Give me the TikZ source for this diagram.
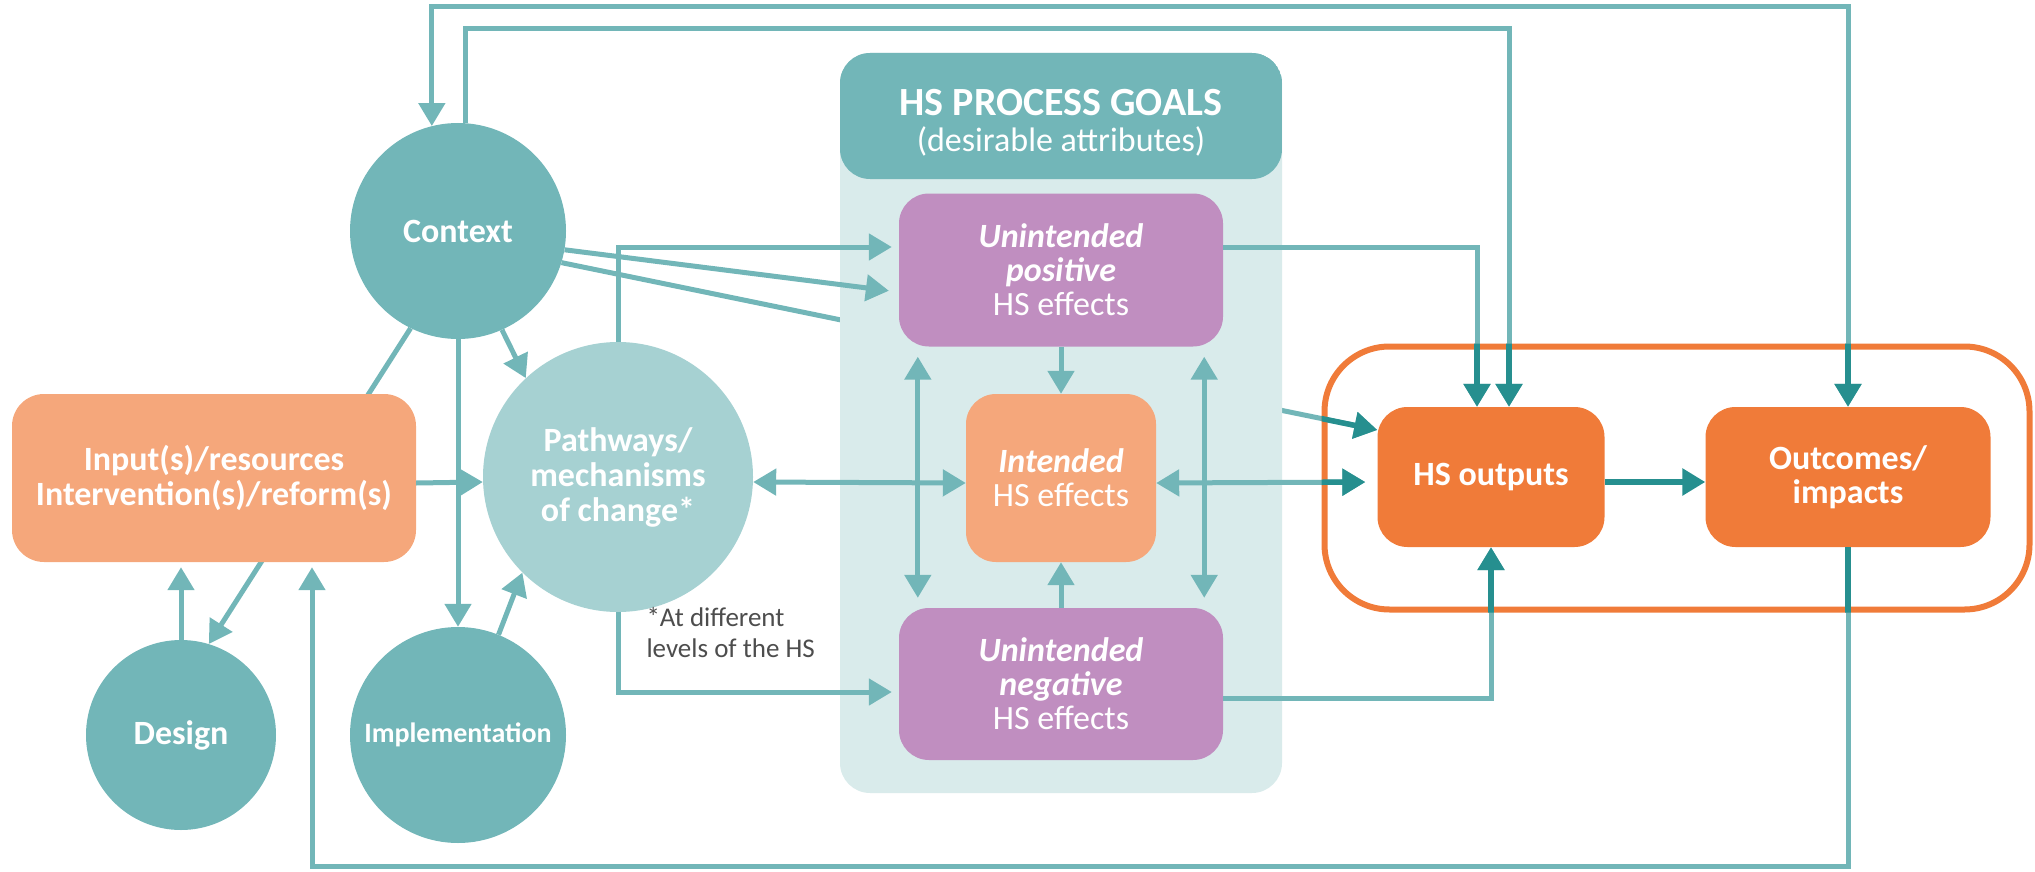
\documentclass[tikz,border=0pt]{standalone}
\usepackage{fontspec}
\setmainfont{Carlito}
\usetikzlibrary{arrows.meta}

\definecolor{tealc}{HTML}{72B6B8}
\definecolor{tealp}{HTML}{A6D1D2}
\definecolor{tealdark}{HTML}{268F8F}
\definecolor{panelc}{HTML}{D9EBEB}
\definecolor{purp}{HTML}{C08EC0}
\definecolor{peach}{HTML}{F5A77B}
\definecolor{orng}{HTML}{F07B39}
\definecolor{notec}{HTML}{4D4D4D}

\pgfdeclarelayer{back}
\pgfsetlayers{back,main}

\tikzset{
  >={Triangle[length=23pt,width=26pt]},
  link/.style={tealc, line width=5pt},
  hot/.style={tealdark, line width=5.5pt},
  circ/.style={circle, fill=tealc, text=white, inner sep=0pt, align=center,
    font=\bfseries\fontsize{34}{34}\selectfont},
  card/.style={rounded corners=30pt, text=white, inner sep=0pt, align=center,
    font=\fontsize{34}{34}\selectfont},
}

\begin{document}
\begin{tikzpicture}[x=1pt, y=-1pt]
                \useasboundingbox (0,0) rectangle (2035,872);
                \coordinate (top1) at (0,7);
                \coordinate (top2) at (0,29);
                \coordinate (bot) at (0,866);
                % left side
                \node [circ, minimum size=216pt] (Ctx) at (458,231) {Context};
                \node [circ, fill=tealp, minimum size=270pt, font=\bfseries\fontsize{34}{35}\selectfont] (Path) at (618,477) {Pathways/\\mechanisms\\of change*};
                \node [circ, minimum size=190pt] (Des) at (181,735) {Design};
                \node [circ, minimum size=216pt, font=\bfseries\fontsize{28}{30}\selectfont] (Impl) at (458,735) {Implementation};
                \node [card, fill=peach, rounded corners=32pt, minimum width=404pt, minimum height=168pt, font=\bfseries\fontsize{34}{35}\selectfont] (Inp) at (214,478) {Input(s)/resources\\Intervention(s)/reform(s)};
                \node [anchor=north west, text=notec, align=left, font=\fontsize{27}{31}\selectfont] (Note) at (643,604) {*At different\\levels of the HS};
                % process goals panel
                \node [fill=panelc, rounded corners=30pt, minimum width=442pt, minimum height=740pt, inner sep=0pt,
                    path picture={\fill [tealc] (path picture bounding box.north west) rectangle ([yshift=-126pt]path picture bounding box.north east);}] (Goals) at (1061,423) {};
                \node [text=white, align=center, font=\fontsize{34}{36}\selectfont] (GoalsTitle) at ([yshift=-70pt]Goals.north) {{\bfseries\fontsize{40}{36}\selectfont HS PROCESS GOALS}\\(desirable attributes)};
                \node [card, fill=purp, minimum width=324pt, minimum height=153pt] (Pos) at (1061,270) {{\bfseries\itshape Unintended}\\{\bfseries\itshape positive}\\HS effects};
                \node [card, fill=peach, minimum width=190pt, minimum height=168pt] (Int) at (1061,478) {{\bfseries\itshape Intended}\\HS effects};
                \node [card, fill=purp, minimum width=324pt, minimum height=152pt] (Neg) at (1061,684) {{\bfseries\itshape Unintended}\\{\bfseries\itshape negative}\\HS effects};
                % outputs frame
                \node [draw=orng, line width=6pt, rounded corners=65pt, minimum width=705pt, minimum height=263pt, inner sep=0pt] (Frame) at (1677,478) {};
                \node [card, fill=orng, minimum width=227pt, minimum height=140pt, font=\bfseries\fontsize{34}{34}\selectfont] (Out) at (1491,477) {HS outputs};
                \node [card, fill=orng, minimum width=285pt, minimum height=140pt, font=\bfseries\fontsize{34}{34}\selectfont] (Outc) at (1848,477) {Outcomes/\\impacts};
                \coordinate (o1) at ([xshift=-14pt]Out.north);
                \coordinate (o2) at ([xshift=18pt]Out.north);
                \coordinate (i1) at ([xshift=98pt]Inp.south);
                % lines running under boxes
                \begin{pgfonlayer}{back}
                \draw [link, ->] (Ctx.-17) -- ([yshift=47pt]Out.west);
                \draw [link, ->] (Ctx.244) -- (Des.73);
                \end{pgfonlayer}
                % links
                \draw [link, <->] (Ctx.104) -- (Ctx.104 |- top1) -| (Outc.north);
                \draw [link, ->] (Ctx.86) -- (Ctx.86 |- top2) -| (o2);
                \draw [link, ->, shorten >=10pt] (Ctx.-10) -- ([yshift=-22pt]Pos.west);
                \draw [link, ->] (Ctx.-66) -- (Path.133);
                \draw [link, ->] (Ctx.south) -- (Impl.north);
                \draw [link, ->, shorten >=5pt] (Des.north) -- (Des.north |- Inp.south);
                \draw [link, ->] (Impl.68) -- (Path.225);
                \draw [link, ->] ([yshift=-5pt]Inp.east) -- ([yshift=-5pt]Path.west);
                \draw [link, ->, shorten >=7pt] (Path.north) |- ([yshift=23pt]Pos.west);
                \draw [link, ->, shorten >=7pt] (Path.south) |- ([yshift=-8pt]Neg.west);
                \draw [link, <->] ([yshift=-5pt]Path.east) -- ([yshift=-5pt]Int.west);
                \draw [link, <->, shorten >=12pt] ([yshift=-5pt]Int.east) -- ([yshift=-5pt]Out.west);
                \draw [link, ->] (Pos.south) -- (Int.north);
                \draw [link, ->] (Neg.north) -- (Int.south);
                \draw [link, <->, shorten <=10pt, shorten >=10pt] ([xshift=19pt]Pos.south west) -- ([xshift=19pt]Neg.north west);
                \draw [link, <->, shorten <=10pt, shorten >=10pt] ([xshift=-19pt]Pos.south east) -- ([xshift=-19pt]Neg.north east);
                \draw [link, ->] ([yshift=23pt]Pos.east) -| (o1);
                \draw [link, ->] ([yshift=-14pt]Neg.east) -| (Out.south);
                \draw [link, ->, shorten >=5pt] (Outc.south) -- (Outc.south |- bot) -| (i1);
                % darker inside the frame
                \begin{scope}
                \clip [rounded corners=65pt] (Frame.north west) rectangle (Frame.south east);
                \draw [hot, <->] (Ctx.104) -- (Ctx.104 |- top1) -| (Outc.north);
                \draw [hot, ->] (Ctx.86) -- (Ctx.86 |- top2) -| (o2);
                \draw [hot, ->] (Ctx.-17) -- ([yshift=47pt]Out.west);
                \draw [hot, <->, shorten >=12pt] ([yshift=-5pt]Int.east) -- ([yshift=-5pt]Out.west);
                \draw [hot, ->] ([yshift=23pt]Pos.east) -| (o1);
                \draw [hot, ->] ([yshift=-14pt]Neg.east) -| (Out.south);
                \draw [hot] (Outc.south) -- (Outc.south |- bot);
                \end{scope}
                \draw [hot, line width=6pt, ->] ([yshift=-5pt]Out.east) -- ([yshift=-5pt]Outc.west);
            \end{tikzpicture}
\end{document}
